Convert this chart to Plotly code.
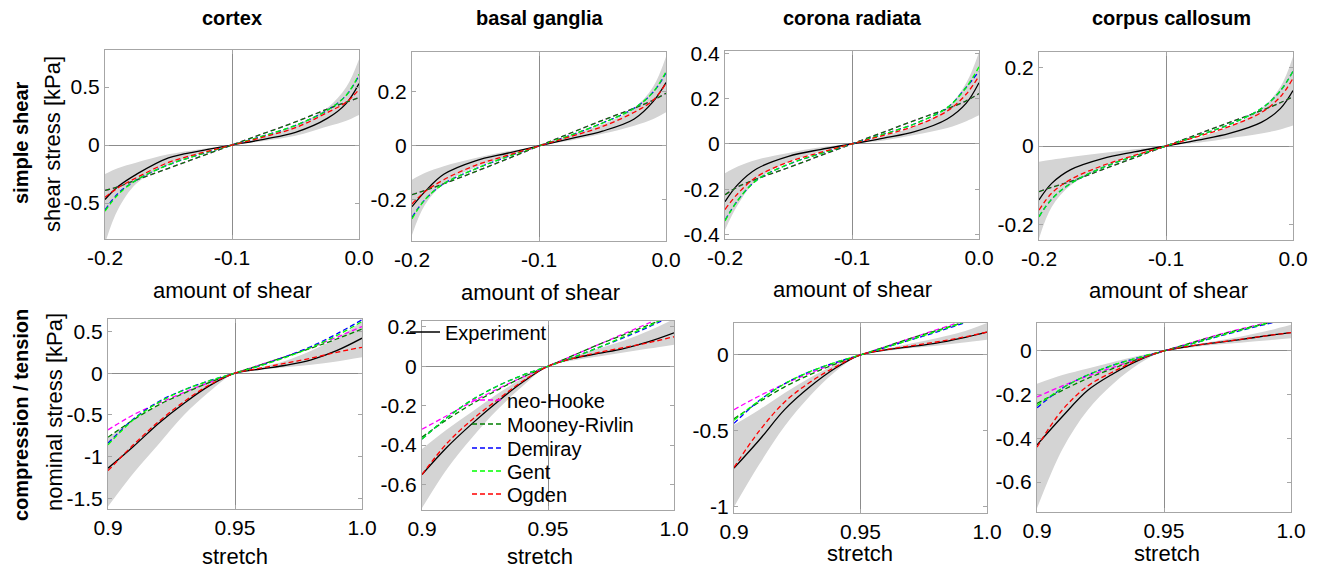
import plotly.graph_objects as go

# The page body has an 8px margin; the figure is sized to fit the window inside it.
PAGE_W, PAGE_H, BODY = 1320, 573, 8
W, H = PAGE_W - BODY, PAGE_H - BODY
FONT = "Liberation Sans, Arial, sans-serif"

# ---------------- data ----------------
shear_x = [-0.2, -0.19, -0.175, -0.15, -0.125, -0.1, -0.075, -0.05, -0.025, -0.01, 0.0]
stretch_x = [0.9, 0.91, 0.92, 0.93, 0.94, 0.95, 0.96, 0.97, 0.98, 0.99, 1.0]

regions = ["cortex", "basal ganglia", "corona radiata", "corpus callosum"]
model_names = ["neo-Hooke", "Mooney-Rivlin", "Demiray", "Gent", "Ogden"]
model_colors = ["#ff00ff", "#007f00", "#0000ff", "#00ff00", "#ff0000"]

# simple shear: cortex
cx_sh_exp = [-0.47, -0.36, -0.25, -0.11, -0.05, 0, 0.05, 0.11, 0.23, 0.36, 0.53]
cx_sh_hi = [-0.25, -0.2, -0.15, -0.08, -0.035, 0, 0.07, 0.17, 0.32, 0.5, 0.74]
cx_sh_lo = [-0.85, -0.56, -0.33, -0.17, -0.07, 0, 0.035, 0.08, 0.16, 0.21, 0.26]
cx_sh_neo = [-0.39, -0.36, -0.3, -0.2, -0.1, 0, 0.1, 0.2, 0.31, 0.37, 0.41]
cx_sh_mr = [-0.39, -0.36, -0.3, -0.2, -0.1, 0, 0.1, 0.2, 0.31, 0.37, 0.41]
cx_sh_dem = [-0.56, -0.42, -0.3, -0.17, -0.08, 0, 0.08, 0.17, 0.3, 0.43, 0.6]
cx_sh_gent = [-0.57, -0.43, -0.3, -0.17, -0.08, 0, 0.08, 0.17, 0.3, 0.43, 0.61]
cx_sh_ogd = [-0.45, -0.37, -0.28, -0.15, -0.07, 0, 0.07, 0.15, 0.28, 0.37, 0.48]

# simple shear: basal ganglia
bg_sh_exp = [-0.225, -0.17, -0.105, -0.055, -0.027, 0, 0.027, 0.055, 0.1, 0.165, 0.235]
bg_sh_hi = [-0.125, -0.1, -0.075, -0.045, -0.02, 0, 0.04, 0.08, 0.14, 0.22, 0.33]
bg_sh_lo = [-0.33, -0.22, -0.14, -0.08, -0.04, 0, 0.02, 0.045, 0.075, 0.1, 0.125]
bg_sh_neo = [-0.18, -0.165, -0.14, -0.095, -0.048, 0, 0.048, 0.095, 0.14, 0.17, 0.195]
bg_sh_mr = [-0.18, -0.165, -0.14, -0.095, -0.048, 0, 0.048, 0.095, 0.14, 0.17, 0.195]
bg_sh_dem = [-0.265, -0.2, -0.14, -0.085, -0.04, 0, 0.04, 0.085, 0.14, 0.2, 0.27]
bg_sh_gent = [-0.27, -0.2, -0.14, -0.085, -0.04, 0, 0.04, 0.085, 0.14, 0.2, 0.275]
bg_sh_ogd = [-0.215, -0.17, -0.125, -0.072, -0.035, 0, 0.035, 0.072, 0.125, 0.17, 0.232]

# simple shear: corona radiata
cr_sh_exp = [-0.255, -0.18, -0.11, -0.055, -0.025, 0, 0.025, 0.055, 0.11, 0.18, 0.27]
cr_sh_hi = [-0.13, -0.1, -0.07, -0.04, -0.015, 0, 0.035, 0.08, 0.16, 0.27, 0.405]
cr_sh_lo = [-0.38, -0.27, -0.16, -0.08, -0.035, 0, 0.015, 0.04, 0.07, 0.1, 0.126]
cr_sh_neo = [-0.225, -0.19, -0.155, -0.105, -0.052, 0, 0.052, 0.105, 0.155, 0.19, 0.222]
cr_sh_mr = [-0.225, -0.19, -0.155, -0.105, -0.052, 0, 0.052, 0.105, 0.155, 0.19, 0.222]
cr_sh_dem = [-0.337, -0.25, -0.16, -0.09, -0.043, 0, 0.043, 0.09, 0.16, 0.25, 0.32]
cr_sh_gent = [-0.34, -0.25, -0.16, -0.09, -0.043, 0, 0.043, 0.09, 0.16, 0.25, 0.34]
cr_sh_ogd = [-0.29, -0.22, -0.145, -0.08, -0.038, 0, 0.038, 0.08, 0.145, 0.22, 0.3]

# simple shear: corpus callosum
cc_sh_exp = [-0.137, -0.095, -0.06, -0.032, -0.015, 0, 0.015, 0.032, 0.06, 0.095, 0.141]
cc_sh_hi = [-0.04, -0.035, -0.028, -0.018, -0.008, 0, 0.02, 0.05, 0.095, 0.15, 0.227]
cc_sh_lo = [-0.235, -0.155, -0.1, -0.055, -0.022, 0, 0.008, 0.02, 0.032, 0.042, 0.052]
cc_sh_neo = [-0.116, -0.105, -0.09, -0.06, -0.03, 0, 0.03, 0.06, 0.09, 0.11, 0.125]
cc_sh_mr = [-0.116, -0.105, -0.09, -0.06, -0.03, 0, 0.03, 0.06, 0.09, 0.11, 0.125]
cc_sh_dem = [-0.18, -0.135, -0.095, -0.055, -0.026, 0, 0.026, 0.055, 0.095, 0.14, 0.19]
cc_sh_gent = [-0.18, -0.135, -0.095, -0.055, -0.026, 0, 0.026, 0.055, 0.095, 0.14, 0.19]
cc_sh_ogd = [-0.163, -0.12, -0.085, -0.05, -0.024, 0, 0.024, 0.05, 0.085, 0.125, 0.172]

# compression / tension: cortex
cx_ct_exp = [-1.14, -0.88, -0.6, -0.36, -0.15, 0, 0.05, 0.095, 0.16, 0.27, 0.42]
cx_ct_hi = [-0.78, -0.55, -0.38, -0.22, -0.09, 0, 0.07, 0.15, 0.27, 0.42, 0.62]
cx_ct_lo = [-1.6, -1.2, -0.85, -0.5, -0.22, 0, 0.04, 0.07, 0.1, 0.14, 0.19]
cx_ct_neo = [-0.68, -0.5, -0.36, -0.23, -0.11, 0, 0.1, 0.2, 0.31, 0.43, 0.56]
cx_ct_mr = [-0.77, -0.56, -0.38, -0.24, -0.11, 0, 0.1, 0.2, 0.3, 0.41, 0.53]
cx_ct_dem = [-0.84, -0.55, -0.34, -0.2, -0.09, 0, 0.09, 0.2, 0.32, 0.47, 0.64]
cx_ct_gent = [-0.86, -0.56, -0.35, -0.2, -0.09, 0, 0.09, 0.19, 0.31, 0.45, 0.62]
cx_ct_ogd = [-1.17, -0.86, -0.58, -0.34, -0.14, 0, 0.06, 0.12, 0.18, 0.25, 0.31]

# compression / tension: basal ganglia
bg_ct_exp = [-0.55, -0.41, -0.29, -0.18, -0.08, 0, 0.04, 0.065, 0.09, 0.125, 0.17]
bg_ct_hi = [-0.42, -0.32, -0.23, -0.14, -0.06, 0, 0.05, 0.09, 0.13, 0.18, 0.24]
bg_ct_lo = [-0.72, -0.52, -0.36, -0.22, -0.1, 0, 0.03, 0.05, 0.07, 0.09, 0.11]
bg_ct_neo = [-0.32, -0.25, -0.18, -0.115, -0.055, 0, 0.055, 0.11, 0.165, 0.22, 0.28]
bg_ct_mr = [-0.36, -0.27, -0.19, -0.12, -0.055, 0, 0.055, 0.11, 0.16, 0.21, 0.26]
bg_ct_dem = [-0.37, -0.26, -0.17, -0.1, -0.045, 0, 0.045, 0.095, 0.145, 0.2, 0.26]
bg_ct_gent = [-0.37, -0.26, -0.17, -0.1, -0.045, 0, 0.045, 0.095, 0.15, 0.205, 0.27]
bg_ct_ogd = [-0.55, -0.39, -0.27, -0.17, -0.075, 0, 0.04, 0.07, 0.095, 0.12, 0.15]

# compression / tension: corona radiata
cr_ct_exp = [-0.745, -0.56, -0.36, -0.21, -0.088, 0, 0.033, 0.055, 0.077, 0.11, 0.15]
cr_ct_hi = [-0.46, -0.36, -0.25, -0.15, -0.065, 0, 0.04, 0.075, 0.11, 0.15, 0.21]
cr_ct_lo = [-1.0, -0.72, -0.47, -0.27, -0.11, 0, 0.025, 0.045, 0.06, 0.08, 0.1]
cr_ct_neo = [-0.36, -0.27, -0.19, -0.12, -0.055, 0, 0.055, 0.11, 0.165, 0.22, 0.28]
cr_ct_mr = [-0.42, -0.31, -0.21, -0.13, -0.06, 0, 0.055, 0.11, 0.16, 0.21, 0.26]
cr_ct_dem = [-0.45, -0.3, -0.19, -0.11, -0.05, 0, 0.05, 0.1, 0.15, 0.205, 0.26]
cr_ct_gent = [-0.43, -0.3, -0.19, -0.11, -0.05, 0, 0.05, 0.1, 0.155, 0.21, 0.27]
cr_ct_ogd = [-0.74, -0.5, -0.31, -0.18, -0.08, 0, 0.035, 0.06, 0.085, 0.115, 0.15]

# compression / tension: corpus callosum
cc_ct_exp = [-0.43, -0.3, -0.18, -0.104, -0.043, 0, 0.021, 0.037, 0.052, 0.069, 0.084]
cc_ct_hi = [-0.15, -0.11, -0.08, -0.05, -0.022, 0, 0.025, 0.045, 0.065, 0.09, 0.12]
cc_ct_lo = [-0.72, -0.45, -0.27, -0.15, -0.06, 0, 0.015, 0.028, 0.038, 0.048, 0.058]
cc_ct_neo = [-0.21, -0.16, -0.115, -0.075, -0.036, 0, 0.035, 0.07, 0.1, 0.128, 0.155]
cc_ct_mr = [-0.24, -0.18, -0.125, -0.08, -0.037, 0, 0.035, 0.068, 0.098, 0.125, 0.15]
cc_ct_dem = [-0.26, -0.17, -0.11, -0.065, -0.03, 0, 0.03, 0.062, 0.093, 0.122, 0.15]
cc_ct_gent = [-0.25, -0.17, -0.11, -0.065, -0.03, 0, 0.03, 0.063, 0.095, 0.125, 0.155]
cc_ct_ogd = [-0.44, -0.27, -0.16, -0.095, -0.04, 0, 0.022, 0.038, 0.053, 0.069, 0.084]

# tick labels
shear_ticks = [-0.2, -0.1, 0.0]
shear_ticktext = ["-0.2", "-0.1", "0.0"]
stretch_ticks = [0.9, 0.95, 1.0]
stretch_ticktext = ["0.9", "0.95", "1.0"]
shear_yticks = [[-0.5, 0, 0.5], [-0.2, 0, 0.2], [-0.4, -0.2, 0, 0.2, 0.4], [-0.2, 0, 0.2]]
ct_yticks = [[-1.5, -1, -0.5, 0, 0.5], [-0.6, -0.4, -0.2, 0, 0.2], [-1, -0.5, 0], [-0.6, -0.4, -0.2, 0]]
shear_yrange = [[-0.81, 0.82], [-0.352, 0.348], [-0.42, 0.41], [-0.239, 0.239]]
ct_yrange = [[-1.63, 0.65], [-0.73, 0.23], [-1.04, 0.21], [-0.737, 0.128]]

shear_sets = [
    (cx_sh_exp, cx_sh_lo, cx_sh_hi, [cx_sh_neo, cx_sh_mr, cx_sh_dem, cx_sh_gent, cx_sh_ogd]),
    (bg_sh_exp, bg_sh_lo, bg_sh_hi, [bg_sh_neo, bg_sh_mr, bg_sh_dem, bg_sh_gent, bg_sh_ogd]),
    (cr_sh_exp, cr_sh_lo, cr_sh_hi, [cr_sh_neo, cr_sh_mr, cr_sh_dem, cr_sh_gent, cr_sh_ogd]),
    (cc_sh_exp, cc_sh_lo, cc_sh_hi, [cc_sh_neo, cc_sh_mr, cc_sh_dem, cc_sh_gent, cc_sh_ogd]),
]
ct_sets = [
    (cx_ct_exp, cx_ct_lo, cx_ct_hi, [cx_ct_neo, cx_ct_mr, cx_ct_dem, cx_ct_gent, cx_ct_ogd]),
    (bg_ct_exp, bg_ct_lo, bg_ct_hi, [bg_ct_neo, bg_ct_mr, bg_ct_dem, bg_ct_gent, bg_ct_ogd]),
    (cr_ct_exp, cr_ct_lo, cr_ct_hi, [cr_ct_neo, cr_ct_mr, cr_ct_dem, cr_ct_gent, cr_ct_ogd]),
    (cc_ct_exp, cc_ct_lo, cc_ct_hi, [cc_ct_neo, cc_ct_mr, cc_ct_dem, cc_ct_gent, cc_ct_ogd]),
]

# ---------------- layout geometry (window pixels) ----------------
top_boxes = [(105, 359, 50, 239), (412, 666, 52, 241), (725, 979, 51, 239), (1039, 1293, 52, 240)]
bot_boxes = [(108, 362, 319, 509), (422, 674, 321, 510), (734, 987, 323, 513), (1037, 1291, 323, 512)]
legend_rows = [400, 424, 448, 471, 494]


def px(x):
    return (x - BODY) / W


def py(y):
    return 1 - (y - BODY) / H


fig = go.Figure()
layout = {}
GRID = "#8c8c8c"
FRAME = "#a6a6a6"
legend_ids = ["legend2", "legend3", "legend4", "legend5", "legend6"]

panel = 0
for row, (xs, sets, boxes, xt, xtt, ytks, yrs) in enumerate([
    (shear_x, shear_sets, top_boxes, shear_ticks, shear_ticktext, shear_yticks, shear_yrange),
    (stretch_x, ct_sets, bot_boxes, stretch_ticks, stretch_ticktext, ct_yticks, ct_yrange),
]):
    for col in range(4):
        panel += 1
        sfx = "" if panel == 1 else str(panel)
        xa, ya = "x" + sfx, "y" + sfx
        exp, lo, hi, models = sets[col]
        # grey band
        fig.add_trace(go.Scatter(x=xs, y=lo, mode="lines", line=dict(width=0, shape="spline"),
                                 showlegend=False, hoverinfo="skip", xaxis=xa, yaxis=ya))
        fig.add_trace(go.Scatter(x=xs, y=hi, mode="lines", line=dict(width=0, shape="spline"),
                                 fill="tonexty", fillcolor="#d4d4d4",
                                 showlegend=False, hoverinfo="skip", xaxis=xa, yaxis=ya))
        # experiment
        fig.add_trace(go.Scatter(x=xs, y=exp, mode="lines", name="Experiment",
                                 line=dict(color="black", width=1.3, shape="spline"),
                                 showlegend=(panel == 1), legend="legend",
                                 xaxis=xa, yaxis=ya))
        for mi, (mname, mcol) in enumerate(zip(model_names, model_colors)):
            fig.add_trace(go.Scatter(x=xs, y=models[mi], mode="lines", name=mname,
                                     line=dict(color=mcol, width=1.3, dash="5px,3px", shape="spline"),
                                     showlegend=(panel == 1), legend=legend_ids[mi],
                                     xaxis=xa, yaxis=ya))
        x0, x1, y0, y1 = boxes[col]
        xr = [xs[0], xs[-1]]
        layout["xaxis" + sfx] = dict(
            domain=[px(x0), px(x1)], anchor=ya, range=xr, automargin=False,
            tickvals=xt, ticktext=xtt, ticks="inside", ticklen=4, tickcolor=FRAME,
            showline=True, linecolor=FRAME, linewidth=1, mirror="ticks",
            showgrid=True, gridcolor=GRID, gridwidth=1, zeroline=False,
            tickfont=dict(family=FONT, size=21, color="black"),
        )
        layout["yaxis" + sfx] = dict(
            domain=[py(y1), py(y0)], anchor=xa, range=yrs[col], automargin=False,
            tickvals=ytks[col], ticktext=[("%g" % v) for v in ytks[col]],
            ticks="inside", ticklen=4, tickcolor=FRAME,
            showline=True, linecolor=FRAME, linewidth=1, mirror="ticks",
            showgrid=False, zeroline=True, zerolinecolor=GRID, zerolinewidth=1,
            tickfont=dict(family=FONT, size=21, color="black"),
        )

ann = []
titles_x = [232, 540, 852, 1171]
for t, xc in zip(regions, titles_x):
    ann.append(dict(text="<b>%s</b>" % t, x=px(xc), y=py(18), xref="paper", yref="paper",
                    showarrow=False, font=dict(family=FONT, size=20, color="black"),
                    xanchor="center", yanchor="middle"))
for xc, yc in [(232, 290), (540, 292), (852, 289), (1168, 290)]:
    ann.append(dict(text="amount of shear", x=px(xc), y=py(yc), xref="paper", yref="paper",
                    showarrow=False, font=dict(family=FONT, size=22, color="black"),
                    xanchor="center", yanchor="middle"))
for xc, yc in [(235, 556), (540, 556), (860, 553), (1167, 553)]:
    ann.append(dict(text="stretch", x=px(xc), y=py(yc), xref="paper", yref="paper",
                    showarrow=False, font=dict(family=FONT, size=22, color="black"),
                    xanchor="center", yanchor="middle"))
ann.append(dict(text="<b>simple shear</b>", x=px(21), y=py(143), xref="paper", yref="paper",
                showarrow=False, textangle=-90, font=dict(family=FONT, size=20, color="black"),
                xanchor="center", yanchor="middle"))
ann.append(dict(text="shear stress [kPa]", x=px(52), y=py(144), xref="paper", yref="paper",
                showarrow=False, textangle=-90, font=dict(family=FONT, size=22, color="black"),
                xanchor="center", yanchor="middle"))
ann.append(dict(text="<b>compression / tension</b>", x=px(21), y=py(415), xref="paper", yref="paper",
                showarrow=False, textangle=-90, font=dict(family=FONT, size=20, color="black"),
                xanchor="center", yanchor="middle"))
ann.append(dict(text="nominal stress [kPa]", x=px(54), y=py(412), xref="paper", yref="paper",
                showarrow=False, textangle=-90, font=dict(family=FONT, size=22, color="black"),
                xanchor="center", yanchor="middle"))

legends = {}
legends["legend"] = dict(x=px(405), y=py(332), xanchor="left", yanchor="middle",
                         bgcolor="rgba(0,0,0,0)", font=dict(family=FONT, size=20, color="black"),
                         itemwidth=30)
for lid, yr in zip(legend_ids, legend_rows):
    legends[lid] = dict(x=px(467), y=py(yr), xanchor="left", yanchor="middle",
                        bgcolor="rgba(0,0,0,0)", font=dict(family=FONT, size=20, color="black"),
                        itemwidth=30)

fig.update_layout(
    width=W, height=H, margin=dict(l=0, r=0, t=0, b=0, autoexpand=False),
    paper_bgcolor="white", plot_bgcolor="white",
    font=dict(family=FONT, color="black"),
    annotations=ann,
    **legends,
    **layout,
)

fig.write_html("out.html")
